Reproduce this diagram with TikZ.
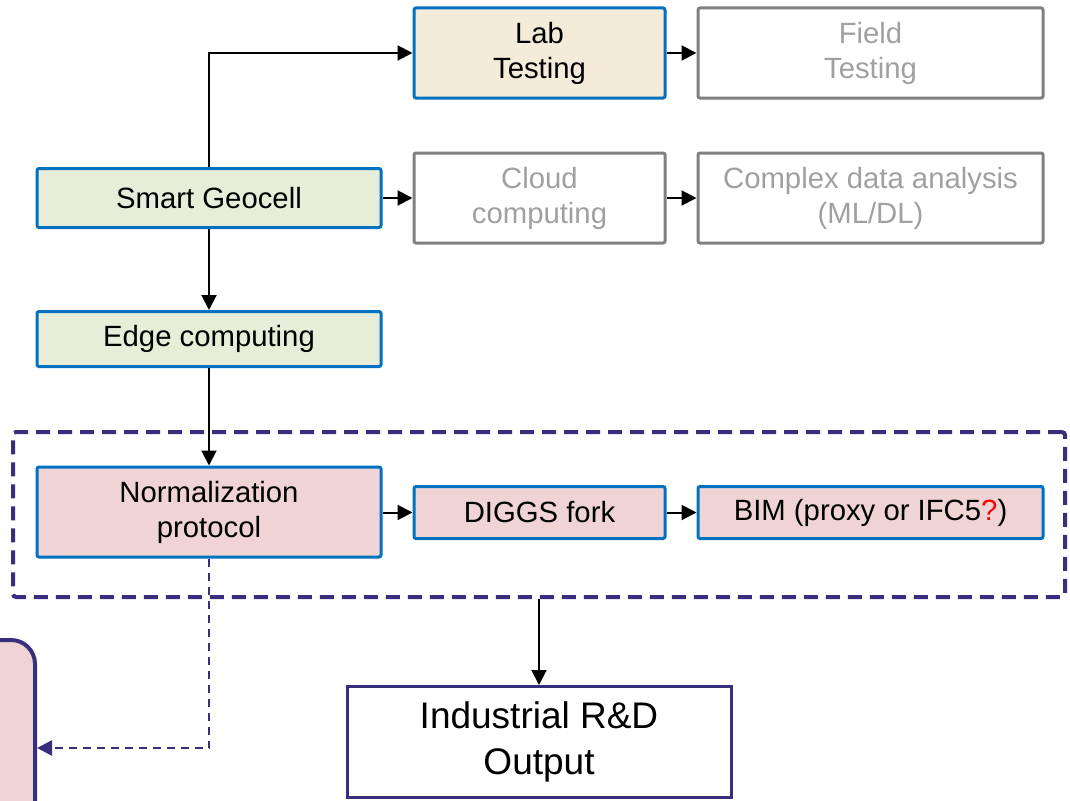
\documentclass[tikz,border=0pt]{standalone}
\usepackage{fontspec}
\setmainfont{Liberation Sans}
\usepackage{xcolor}
\usetikzlibrary{arrows.meta,positioning,calc}

\definecolor{cellblue}{HTML}{0070C0}
\definecolor{labfill}{HTML}{F5EBD9}
\definecolor{geofill}{HTML}{E6EED9}
\definecolor{normfill}{HTML}{F0D3D4}
\definecolor{greyline}{HTML}{808080}
\definecolor{greytext}{HTML}{A0A0A0}
\definecolor{groupline}{HTML}{372F7D}

\begin{document}
\begin{tikzpicture}[
    x=1pt,
    y=-1pt,
    >={Triangle[length=15pt,width=15pt]},
    stage/.style={draw=cellblue, line width=3pt, rounded corners=2pt, align=center, inner sep=0pt, font=\fontsize{29.3}{35}\selectfont},
    future/.style={stage, draw=greyline, text=greytext},
    link/.style={->, line width=2pt}
]
\useasboundingbox (0,0) rectangle (1070,800);

% dashed frame round the data chain
\node[draw=groupline, line width=4pt, rounded corners=3pt, dash pattern=on 14pt off 8pt,
      minimum width=1052pt, minimum height=165pt] (group) at (539,514.5) {};

\node[stage, fill=labfill, minimum width=251pt, minimum height=90pt] (lab) at (539.5,53) {Lab\\Testing};
\node[future, minimum width=345pt, minimum height=90pt] (field) at (870.5,53) {Field\\Testing};

\node[stage, fill=geofill, minimum width=344pt, minimum height=59pt] (geocell) at (209,198) {Smart Geocell};
\node[future, minimum width=251pt, minimum height=90pt] (cloud) at (539.5,198) {Cloud\\computing};
\node[future, minimum width=345pt, minimum height=90pt] (analysis) at (870.5,198) {Complex data analysis\\(ML/DL)};

\node[stage, fill=geofill, minimum width=344pt, minimum height=55pt] (edge) at (209,339) {Edge computing};

\node[stage, fill=normfill, minimum width=344pt, minimum height=90pt] (norm) at (209,512) {Normalization\\protocol};
\node[stage, fill=normfill, minimum width=251pt, minimum height=52pt] (diggs) at (539.5,512.5) {DIGGS fork};
\node[stage, fill=normfill, minimum width=345pt, minimum height=52pt] (bim) at (870.5,512.5) {BIM (proxy or IFC5\textcolor{red}{?})};

\node[draw=groupline, line width=3pt, align=center, inner sep=0pt, minimum width=384pt, minimum height=111pt,
      font=\fontsize{37}{46}\selectfont] (output) at (539,742) {Industrial R\&D\\Output};

% box cut by the left edge
\node[draw=groupline, fill=normfill, line width=4pt, rounded corners=24pt,
      minimum width=100pt, minimum height=216pt] (side) at (-15,748) {};

\draw[link] (geocell.north) |- (lab.west);
\draw[link] (lab) -- (field);
\draw[link] (geocell) -- (geocell -| cloud.west);
\draw[link] (cloud) -- (analysis);
\draw[link] (geocell) -- (edge);
\draw[link] (edge) -- (norm);
\draw[link] (norm.east |- diggs) -- (diggs);
\draw[link] (diggs) -- (bim);
\draw[link] (group.south) -- (output.north);
\draw[->, groupline, line width=2.5pt, dash pattern=on 8pt off 6pt] (norm.south) |- (side.east);
\end{tikzpicture}
\end{document}
